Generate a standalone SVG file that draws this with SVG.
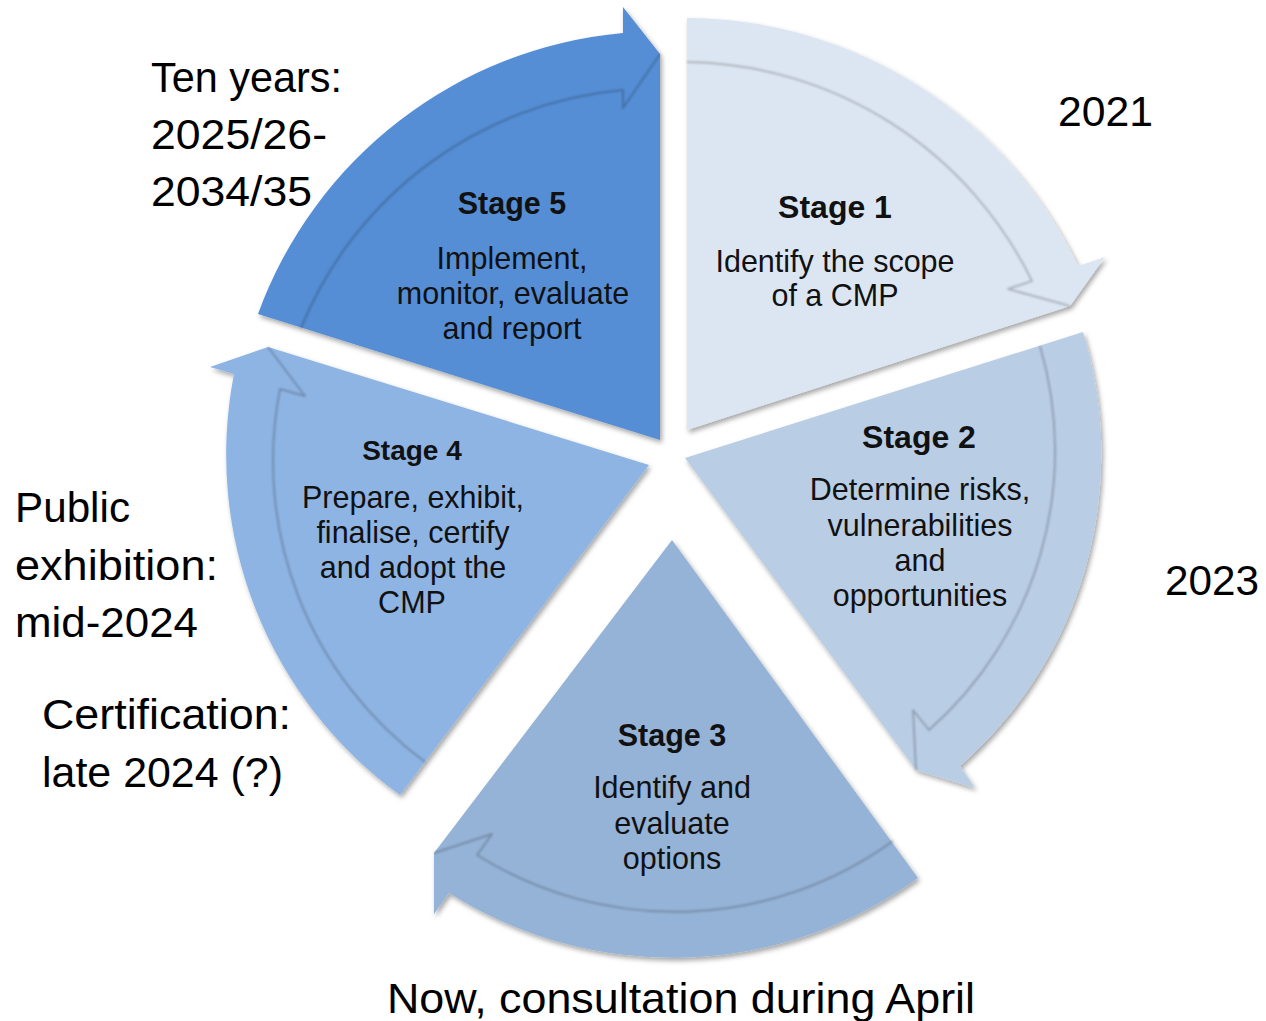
<svg xmlns="http://www.w3.org/2000/svg" width="1266" height="1021" viewBox="0 0 1266 1021">
<defs>
<filter id="ds" x="-10%" y="-10%" width="125%" height="125%">
<feDropShadow dx="2" dy="3" stdDeviation="2.5" flood-color="#000" flood-opacity="0.35"/>
</filter>
<filter id="soft" x="-5%" y="-5%" width="110%" height="110%">
<feGaussianBlur stdDeviation="0.9"/>
</filter>
<style>
.wedge{filter:url(#ds)}
.rim{fill:none;stroke:#000;stroke-opacity:0.22;stroke-width:2;stroke-linejoin:round;filter:url(#soft)}
.t{font-family:"Liberation Sans",Arial,sans-serif;fill:#111;text-anchor:middle;font-size:30.5px}
.h{font-weight:bold}
.lab{font-family:"Liberation Sans",Arial,sans-serif;fill:#000;font-size:42px}
</style>
</defs>
<rect width="1266" height="1021" fill="#fff"/>

<g id="stage1">
<path class="wedge" fill="#DCE6F2" d="M 687 430 L 687 18 A 435 435 0 0 1 1078 266 L 1105 257 L 1070 306 Z"/>
<text class="t h" x="835" y="218" style="font-size:32px">Stage 1</text>
<text class="t" x="835" y="272">Identify the scope</text>
<text class="t" x="835" y="306">of a CMP</text>
</g>

<g id="stage2">
<path class="wedge" fill="#B9CDE5" d="M 685 458 L 1083 332 A 415 415 0 0 1 960 766 L 975 788 L 916 770 Z"/>
<text class="t h" x="919" y="448" style="font-size:32px">Stage 2</text>
<text class="t" x="920" y="500">Determine risks,</text>
<text class="t" x="920" y="536">vulnerabilities</text>
<text class="t" x="920" y="571">and</text>
<text class="t" x="920" y="606">opportunities</text>
</g>

<g id="stage3">
<path class="wedge" fill="#95B3D7" d="M 672 540 L 918 878 A 418 418 0 0 1 449 893 L 434 914 L 434 853 Z"/>
<text class="t h" x="672" y="746" style="font-size:30.5px">Stage 3</text>
<text class="t" x="672" y="798">Identify and</text>
<text class="t" x="672" y="834">evaluate</text>
<text class="t" x="672" y="869">options</text>
</g>

<g id="stage4">
<path class="wedge" fill="#8EB4E3" d="M 649 465 L 400 795 A 420 420 0 0 1 234 374 L 210 367 L 268 347 Z"/>
<text class="t h" x="412" y="460" style="font-size:28px">Stage 4</text>
<text class="t" x="413" y="508">Prepare, exhibit,</text>
<text class="t" x="413" y="543">finalise, certify</text>
<text class="t" x="413" y="578">and adopt the</text>
<text class="t" x="412" y="613">CMP</text>
</g>

<g id="stage5">
<path class="wedge" fill="#558ED5" d="M 660 440 L 258 314 A 430 430 0 0 1 623 33 L 623 7 L 660 54 Z"/>
<text class="t h" x="512" y="214" style="font-size:30.5px">Stage 5</text>
<text class="t" x="512" y="269">Implement,</text>
<text class="t" x="513" y="304">monitor, evaluate</text>
<text class="t" x="512" y="339">and report</text>
</g>

<g id="connectors">
<path class="rim" d="M 687 62 A 390 390 0 0 1 1032 281 L 1008 289 L 1070 306"/>
<path class="rim" d="M 1040 346 A 372 372 0 0 1 929 730 L 913 710 L 916 770"/>
<path class="rim" d="M 893 841 A 372 372 0 0 1 477 855 L 492 834 L 434 853"/>
<path class="rim" d="M 425 762 A 374 374 0 0 1 280 389 L 305 396 L 268 347"/>
<path class="rim" d="M 301 328 A 385 385 0 0 1 623 90 L 623 108 L 660 54"/>
</g>

<g id="annotations">
<text class="lab" x="151" y="92" textLength="191" lengthAdjust="spacingAndGlyphs">Ten years:</text>
<text class="lab" x="151" y="149" textLength="176" lengthAdjust="spacingAndGlyphs">2025/26-</text>
<text class="lab" x="151" y="206" textLength="161" lengthAdjust="spacingAndGlyphs">2034/35</text>
<text class="lab" x="1058" y="126" textLength="95" lengthAdjust="spacingAndGlyphs">2021</text>
<text class="lab" x="1165" y="595" textLength="94" lengthAdjust="spacingAndGlyphs">2023</text>
<text class="lab" x="15" y="522" textLength="115" lengthAdjust="spacingAndGlyphs">Public</text>
<text class="lab" x="15" y="580" textLength="203" lengthAdjust="spacingAndGlyphs">exhibition:</text>
<text class="lab" x="15" y="637" textLength="183" lengthAdjust="spacingAndGlyphs">mid-2024</text>
<text class="lab" x="42" y="729" textLength="249" lengthAdjust="spacingAndGlyphs">Certification:</text>
<text class="lab" x="42" y="787" textLength="241" lengthAdjust="spacingAndGlyphs">late 2024 (?)</text>
<text class="lab" x="387" y="1013" textLength="588" lengthAdjust="spacingAndGlyphs">Now, consultation during April</text>
</g>
</svg>
